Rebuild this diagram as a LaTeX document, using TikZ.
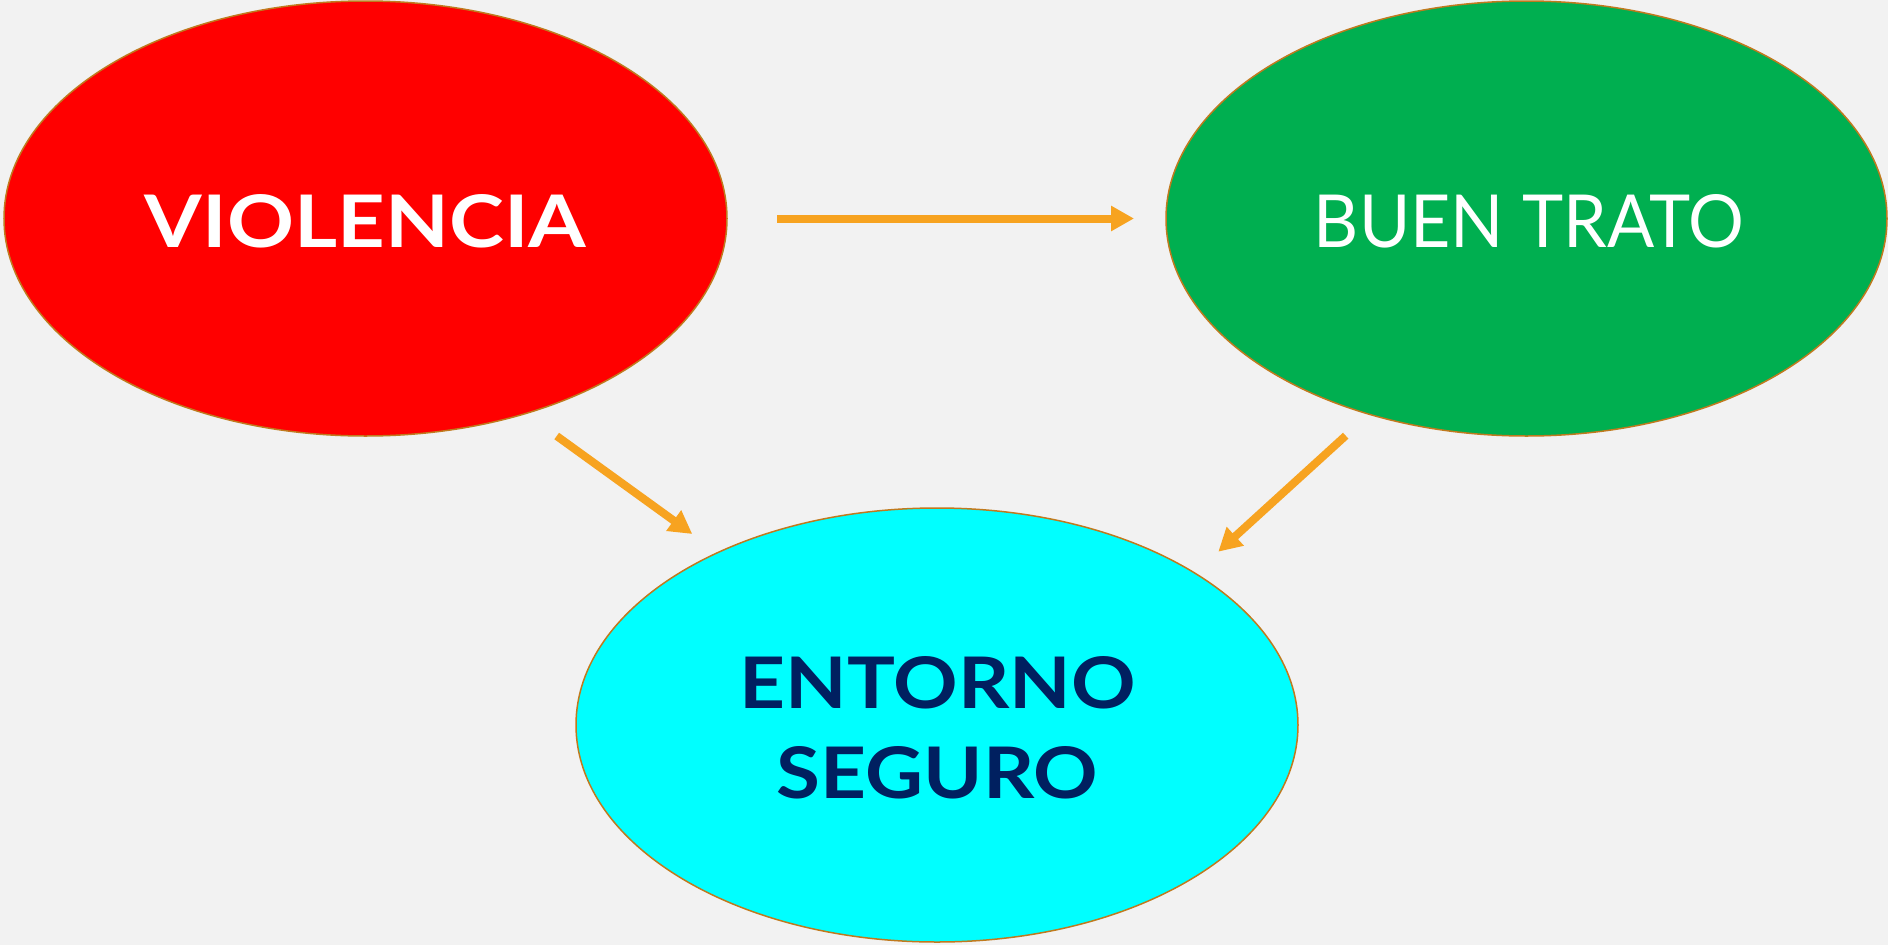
\documentclass[tikz,border=0pt]{standalone}
\usepackage{fontspec}
\setmainfont{Lato}
\usetikzlibrary{arrows.meta,shapes.geometric}
\definecolor{bgc}{HTML}{F2F2F2}
\definecolor{redc}{HTML}{FF0000}
\definecolor{greenc}{HTML}{00AF50}
\definecolor{cyanc}{HTML}{00FFFF}
\definecolor{navyc}{HTML}{002060}
\definecolor{arrc}{RGB}{247,163,32}
\definecolor{rimc}{RGB}{192,122,30}
\begin{document}
\begin{tikzpicture}[x=1pt,y=-1pt,
  bubble/.style={ellipse, draw=rimc, line width=1.5pt, inner sep=0pt, outer sep=0pt},
  lbl/.style={inner sep=0pt, outer sep=0pt, anchor=base},
  conn/.style={draw=arrc, line width=8pt, -{Triangle[length=23pt,width=24pt]}}]
\useasboundingbox (0,0) rectangle (1888,945);
\fill[bgc] (0,0) rectangle (1888,945);
\begin{scope}
\clip (0,0) rectangle (1888,945);
\node[bubble, fill=redc, minimum width=723pt, minimum height=435pt] (v) at (365.5,218.5) {};
\node[bubble, fill=greenc, minimum width=721pt, minimum height=435pt] (b) at (1526.5,218.5) {};
\node[bubble, fill=cyanc, minimum width=722pt, minimum height=434pt] (e) at (937,725) {};
\end{scope}
\node[lbl, text=white] (vt) at (365.5,247) {\resizebox{441pt}{53pt}{\bfseries VIOLENCIA}};
\node[lbl, text=white] (bt) at (1529,247) {\resizebox{430pt}{53pt}{BUEN TRATO}};
\node[lbl, text=navyc] (et1) at (938,708) {\resizebox{396pt}{52pt}{\bfseries ENTORNO}};
\node[lbl, text=navyc] (et2) at (937.5,798) {\resizebox{321pt}{52pt}{\bfseries SEGURO}};
\draw[conn, shorten <=50pt, shorten >=32pt] (v) -- (b);
\coordinate (s2) at (556.7,436);
\coordinate (t2) at (692.3,534);
\coordinate (s3) at (1345.7,435.7);
\coordinate (t3) at (1218.3,551.7);
\draw[conn] (s2) -- (t2);
\draw[conn] (s3) -- (t3);
\end{tikzpicture}
\end{document}
